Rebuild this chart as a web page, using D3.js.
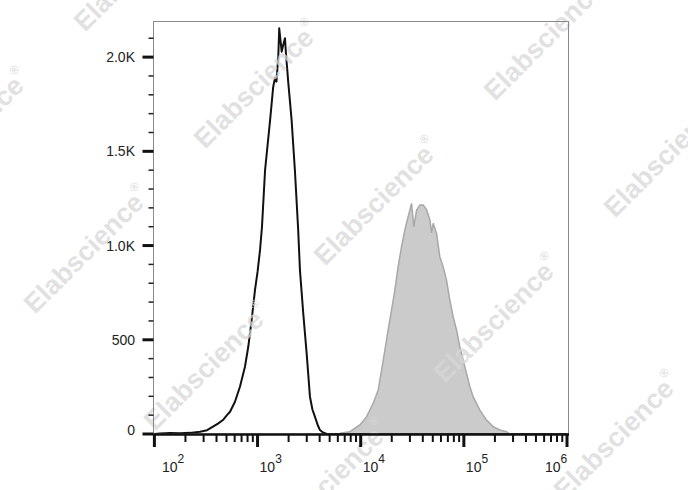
<!DOCTYPE html>
<html>
<head>
<meta charset="utf-8">
<script src="https://cdn.jsdelivr.net/npm/d3@7"></script>
<style>
  html, body { margin: 0; padding: 0; background: #fff; }
  svg { display: block; }
</style>
</head>
<body>
<svg id="chart" width="688" height="490"></svg>
<script>
// ---- data ----
// control histogram (black outline)
const blackX = [100, 113, 142, 177, 221, 277, 324, 370, 413, 462, 505, 541, 604, 675, 755, 813, 877, 944, 1000, 1057, 1104,
  1183, 1324, 1419, 1476, 1524, 1589, 1622, 1714, 1774, 1845, 1884, 1982, 2138, 2301, 2477, 2576, 2773, 2992,
  3221, 3404, 3597, 3846, 4027, 4305, 4699, 6000, 1000000];
const blackY = [0, 3, 5, 4, 6, 12, 20, 39, 55, 74, 100, 118, 171, 251, 357, 463, 605, 764, 860, 977, 1100,
  1401, 1667, 1843, 1890, 1870, 2003, 2153, 2029, 2065, 2100, 2022, 1870, 1667, 1401, 1083, 870, 641, 428,
  198, 130, 92, 45, 21, 8, 0, 0, 0];
// stained histogram (grey filled)
const grayX = [6281, 7852, 9817, 11400, 13213, 14791, 15959, 17179, 18450, 19907, 21429, 23067, 24889, 26792,
  28840, 31117, 32734, 34834, 37497, 40365, 43551, 46881, 48641, 50466, 54325, 58479, 62951, 67920, 73114,
  78705, 84918, 91411, 98401, 106170, 114288, 123027, 142889, 165959, 192309, 223357, 259418, 279254];
const grayY = [4, 12, 48, 92, 163, 234, 340, 446, 552, 658, 764, 888, 994, 1083,
  1153, 1224, 1100, 1189, 1215, 1215, 1189, 1136, 1067, 1118, 1065, 941, 888, 817, 711,
  623, 552, 463, 393, 322, 251, 198, 127, 74, 39, 21, 12, 0];
const yMajorTicks = [0, 500, 1000, 1500, 2000];
const yTickLabels = ["0", "500", "1.0K", "1.5K", "2.0K"];
const yMinorTicks = d3.range(0, 2200, 100);
const xDecades = [100, 1000, 10000, 100000, 1000000];
const xDecadeExp = ["2", "3", "4", "5", "6"];
const watermarkText = "Elabscience";

// ---- layout ----
const svg = d3.select("#chart");
const pL = 153.5, pR = 568.5, pT = 21.5, pB = 434;
const x = d3.scaleLog().domain([100, 1000000]).range([154.4, 567]);
const y = d3.scaleLinear().domain([0, 2189]).range([pB, pT]);
const FONT = "Arial, 'Liberation Sans', Helvetica, sans-serif";

svg.append("defs").append("clipPath").attr("id", "plotclip")
  .append("rect").attr("x", pL).attr("y", pT).attr("width", pR - pL).attr("height", pB - pT);

const plot = svg.append("g").attr("clip-path", "url(#plotclip)");

const grayData = grayX.map((v, i) => [v, grayY[i]]);
const blackData = blackX.map((v, i) => [v, blackY[i]]);

plot.append("path")
  .datum(grayData)
  .attr("d", d3.area().x(d => x(d[0])).y0(y(0)).y1(d => y(d[1])))
  .attr("fill", "#cbcbcb")
  .attr("stroke", "none");

// watermarks
const wm = svg.append("g");
const P0 = [257, 85], A = [120, 117], B = [170, -165];
for (let i = -2; i <= 4; i++) {
  for (let j = -2; j <= 2; j++) {
    const cx = P0[0] + i * A[0] + j * B[0];
    const cy = P0[1] + i * A[1] + j * B[1];
    if (cx < -120 || cx > 800 || cy < -120 || cy > 510) continue;
    const t = wm.append("text")
      .attr("transform", `translate(${cx},${cy}) rotate(-45)`)
      .attr("text-anchor", "middle")
      .attr("dominant-baseline", "central")
      .attr("font-family", FONT)
      .attr("font-weight", "bold")
      .attr("font-size", 27)
      .attr("fill", "#d7d7d7")
      .attr("fill-opacity", 0.75);
    t.append("tspan").text(watermarkText);
    t.append("tspan").attr("font-size", 12).attr("dy", -11).text("®");
  }
}

plot.append("path")
  .datum(grayData)
  .attr("d", d3.line().x(d => x(d[0])).y(d => y(d[1])))
  .attr("fill", "none")
  .attr("stroke", "#a8a8a8")
  .attr("stroke-width", 1.5);

plot.append("path")
  .datum(blackData)
  .attr("d", d3.line().x(d => x(d[0])).y(d => y(d[1])))
  .attr("fill", "none")
  .attr("stroke", "#111")
  .attr("stroke-width", 2)
  .attr("stroke-linejoin", "round");

// frame
svg.append("rect")
  .attr("x", pL).attr("y", pT).attr("width", pR - pL).attr("height", pB - pT)
  .attr("fill", "none").attr("stroke", "#8a8a8a").attr("stroke-width", 1);

// y axis ticks
const yg = svg.append("g");
yg.selectAll("line.minor").data(yMinorTicks.filter(v => v % 500 !== 0)).join("line")
  .attr("x1", 148.5).attr("x2", pL).attr("y1", d => y(d)).attr("y2", d => y(d))
  .attr("stroke", "#222").attr("stroke-width", 1.5);
yg.selectAll("line.major").data(yMajorTicks).join("line")
  .attr("x1", 142.5).attr("x2", pL).attr("y1", d => y(d)).attr("y2", d => y(d))
  .attr("stroke", "#111").attr("stroke-width", 3);
yg.selectAll("text").data(yMajorTicks).join("text")
  .attr("x", 135).attr("y", (d, i) => y(d) + (i === 0 ? -4 : 0))
  .attr("text-anchor", "end").attr("dominant-baseline", "central")
  .attr("font-family", FONT).attr("font-size", 14).attr("fill", "#222")
  .text((d, i) => yTickLabels[i]);

// x axis
const xg = svg.append("g");
xg.append("line").attr("x1", pL).attr("x2", pR + 0.5).attr("y1", pB + 0.5).attr("y2", pB + 0.5)
  .attr("stroke", "#111").attr("stroke-width", 2.5);
const minor = [];
for (let k = 0; k < xDecades.length - 1; k++) {
  for (let m = 2; m <= 9; m++) minor.push(xDecades[k] * m);
}
xg.selectAll("line.minor").data(minor).join("line")
  .attr("x1", d => x(d)).attr("x2", d => x(d)).attr("y1", pB).attr("y2", 442)
  .attr("stroke", "#111").attr("stroke-width", 2);
xg.selectAll("line.major").data(xDecades).join("line")
  .attr("x1", d => x(d)).attr("x2", d => x(d)).attr("y1", pB).attr("y2", 447)
  .attr("stroke", "#111").attr("stroke-width", 3);
xg.selectAll("text").data(xDecades).join("text")
  .attr("x", d => Math.max(162, Math.min(x(d) + 2, 545)))
  .attr("y", 471.5)
  .attr("font-family", FONT).attr("font-size", 14).attr("fill", "#222")
  .each(function(d, i) {
    const t = d3.select(this);
    t.append("tspan").text("10");
    t.append("tspan").attr("font-size", 12).attr("dy", -8.5).text(xDecadeExp[i]);
  });
</script>
</body>
</html>
